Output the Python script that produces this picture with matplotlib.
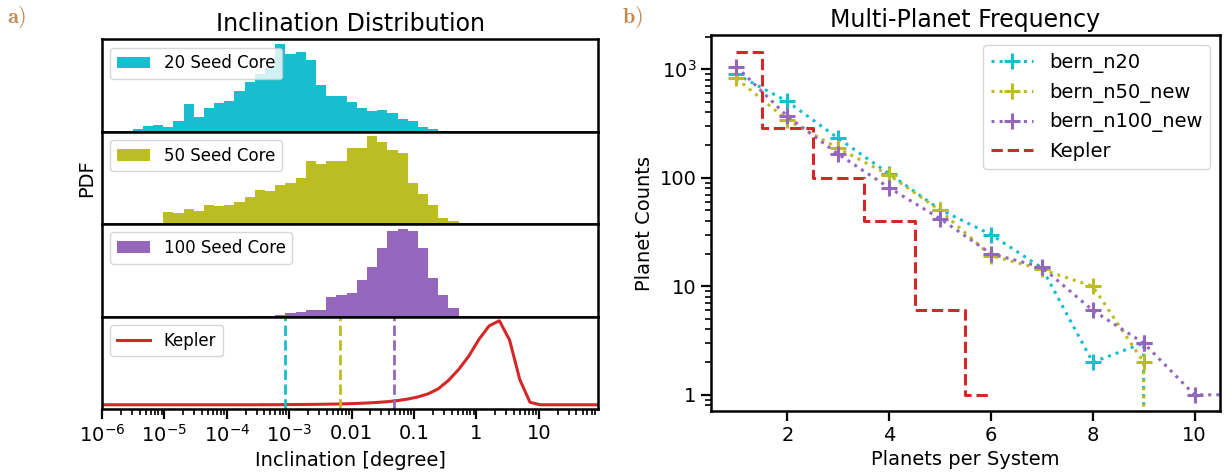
import numpy as np
import matplotlib
matplotlib.use('Agg')
import matplotlib.pyplot as plt
from matplotlib.ticker import LogLocator, NullFormatter

plt.rcParams['font.family'] = ['DejaVu Sans']

# ---------------- data: inclination histograms (log bins 1e-6 .. 1e2, 49 bins) ----------------
bin_lo_exp = -6
bin_hi_exp = 2
n_edges = 50

seed20_pdf = [0, 0, 0, 0.03, 0.066, 0.08, 0.05, 0.12, 0.31, 0.17,
              0.27, 0.33, 0.35, 0.46, 0.56, 0.66, 0.72, 1.0, 0.88, 0.91,
              0.81, 0.53, 0.41, 0.41, 0.34, 0.27, 0.24, 0.25, 0.21, 0.15,
              0.12, 0.058, 0.027, 0.008, 0, 0, 0, 0, 0, 0,
              0, 0, 0, 0, 0, 0, 0, 0, 0]
seed50_pdf = [0.004, 0.002, 0.006, 0.006, 0.003, 0.006, 0.136, 0.128, 0.175, 0.152,
              0.222, 0.206, 0.222, 0.257, 0.307, 0.385, 0.374, 0.44, 0.463, 0.525,
              0.72, 0.68, 0.72, 0.715, 0.86, 0.87, 1.0, 0.93, 0.84, 0.805,
              0.467, 0.346, 0.214, 0.074, 0.035, 0.008, 0, 0, 0, 0,
              0, 0, 0, 0, 0, 0, 0, 0, 0]
seed100_pdf = [0, 0, 0, 0, 0, 0, 0, 0, 0, 0,
               0, 0, 0, 0, 0.003, 0.004, 0.005, 0.023, 0.035, 0.054,
               0.07, 0.07, 0.217, 0.248, 0.264, 0.41, 0.566, 0.775, 0.977, 1.0,
               0.97, 0.775, 0.434, 0.24, 0.097, 0.012, 0, 0, 0, 0,
               0, 0, 0, 0, 0, 0, 0, 0, 0]
kepler_pdf = [0, 0, 0, 0, 0, 0, 0, 0, 0, 0,
              0, 0, 0, 0, 0, 0, 0.001, 0.001, 0.002, 0.003,
              0.004, 0.005, 0.007, 0.009, 0.012, 0.016, 0.021, 0.028, 0.037, 0.05,
              0.068, 0.093, 0.13, 0.19, 0.29, 0.42, 0.58, 0.78, 0.94, 1.0,
              0.77, 0.30, 0.03, 0, 0, 0, 0, 0, 0, 0]
median_incl = [8.7e-4, 6.6e-3, 4.8e-2]

hist_labels = ['20 Seed Core', '50 Seed Core', '100 Seed Core']
hist_colors = ['tab:cyan', 'tab:olive', 'tab:purple']

xtick_vals = [1e-6, 1e-5, 1e-4, 1e-3, 1e-2, 1e-1, 1, 10]
xtick_labels = ['$10^{-6}$', '$10^{-5}$', '$10^{-4}$', '$10^{-3}$', '0.01', '0.1', '1', '10']

# ---------------- data: multiplicity ----------------
n_planets = [1, 2, 3, 4, 5, 6, 7, 8, 9, 10, 11]
bern_n20 = [900, 505, 231, 109, 51, 30, 14.8, 2, 3, 0, 0]
bern_n50 = [822, 340, 187, 106, 50, 19.2, 14.3, 10, 2, 0, 0]
bern_n100 = [1057, 369, 165, 81, 42, 20, 15, 6, 3, 1, 1]
kepler_n = [1, 2, 3, 4, 5, 6]
kepler_counts = [1440, 285, 100, 40, 6, 1]

ytick_vals = [1, 10, 100, 1000]
ytick_labels = ['1', '10', '100', '$10^3$']

# ---------------- figure ----------------
fig = plt.figure(figsize=(12.25, 4.76), dpi=100)

spine_w = 1.8
tick_fs = 14
title_fs = 17
lx0, lw = 0.0833, 0.405
ly_bot, ly_top = 0.1408, 0.9174
ph = (ly_top - ly_bot) / 4

edges = np.logspace(bin_lo_exp, bin_hi_exp, n_edges)
centers = np.sqrt(edges[:-1] * edges[1:])
xlim = (1e-6, 10 ** 1.95)

axes = []
for i in range(4):
    ax = fig.add_axes([lx0, ly_top - (i + 1) * ph, lw, ph])
    ax.set_xscale('log')
    for s in ax.spines.values():
        s.set_linewidth(spine_w)
    axes.append(ax)

for ax, vals, lab, col in zip(axes[:3], [seed20_pdf, seed50_pdf, seed100_pdf], hist_labels, hist_colors):
    ax.hist(centers, bins=edges, weights=vals, color=col, label=lab)
    ax.set_xlim(*xlim)
    ax.tick_params(which='both', bottom=False, labelbottom=False, left=False, labelleft=False)
    ax.legend(loc='upper left', fontsize=12, handlelength=2.0)

axk = axes[3]
axk.plot(edges, kepler_pdf, color='tab:red', lw=2.2, label='Kepler')
for m, col in zip(median_incl, hist_colors):
    axk.axvline(m, color=col, ls='--', lw=2)
axk.set_xlim(*xlim)
axk.tick_params(which='both', left=False, labelleft=False)
axk.set_xticks(xtick_vals)
axk.set_xticklabels(xtick_labels)
axk.xaxis.set_minor_locator(LogLocator(base=10, subs=np.arange(2, 10), numticks=100))
axk.xaxis.set_minor_formatter(NullFormatter())
axk.tick_params(axis='x', which='major', labelsize=tick_fs, length=7, width=1.6)
axk.tick_params(axis='x', which='minor', length=4, width=1.2)
axk.legend(loc='upper left', fontsize=12, handlelength=2.0)
axk.set_xlabel('Inclination [degree]', fontsize=tick_fs)
axes[1].set_ylabel('PDF', fontsize=tick_fs)
axes[0].set_title('Inclination Distribution', fontsize=title_fs)

# right panel
axr = fig.add_axes([0.5804, 0.1366, 0.4155, 0.789])
for s in axr.spines.values():
    s.set_linewidth(spine_w)
mk = dict(marker='+', lw=2.2, ms=11, mew=2.2)
axr.plot(n_planets, bern_n20, ls=':', color='tab:cyan', label='bern_n20', **mk)
axr.plot(n_planets, bern_n50, ls=':', color='tab:olive', label='bern_n50_new', **mk)
axr.plot(n_planets, bern_n100, ls=':', color='tab:purple', label='bern_n100_new', **mk)
axr.plot(kepler_n, kepler_counts, ls='--', drawstyle='steps-mid', color='tab:red', lw=2.2, label='Kepler')
axr.set_yscale('log')
axr.set_xlim(0.5, 10.5)
axr.set_ylim(0.71, 2050)
axr.set_yticks(ytick_vals)
axr.set_yticklabels(ytick_labels)
axr.set_xticks([2, 4, 6, 8, 10])
axr.tick_params(which='major', labelsize=tick_fs, length=7, width=1.6)
axr.tick_params(which='minor', length=4, width=1.2)
axr.yaxis.set_minor_formatter(NullFormatter())
axr.set_xlabel('Planets per System', fontsize=tick_fs)
axr.set_ylabel('Planet Counts', fontsize=tick_fs)
axr.set_title('Multi-Planet Frequency', fontsize=title_fs)
axr.legend(loc='upper right', fontsize=14, handlelength=2.2)

fig.text(0.006, 0.952, r'$\mathbf{a)}$', fontsize=16, math_fontfamily='cm', color='#c08a52')
fig.text(0.508, 0.952, r'$\mathbf{b)}$', fontsize=16, math_fontfamily='cm', color='#c08a52')

fig.savefig('out.png', dpi=100)
